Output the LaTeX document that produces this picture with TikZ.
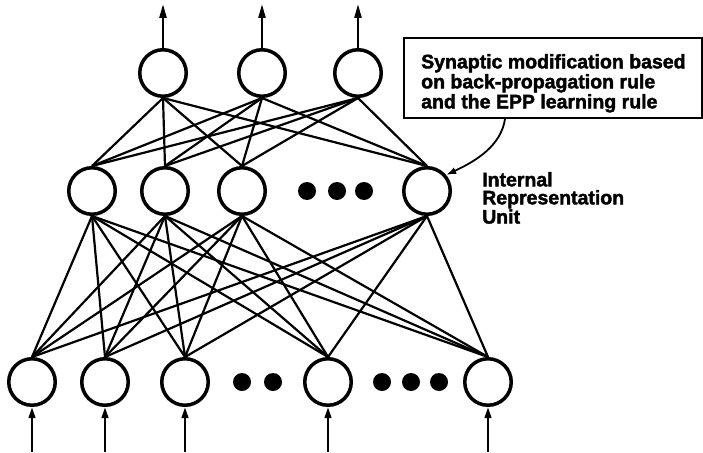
\documentclass[tikz,border=0pt]{standalone}
\usepackage{fontspec}
\newfontfamily\heavyfont{Liberation Sans}[BoldFeatures={FakeBold=2}]
\usetikzlibrary{arrows.meta}

\begin{document}
\begin{tikzpicture}[x=1pt,y=-1pt,
  unit/.style={circle,draw,line width=3.5pt,minimum size=46.5pt,inner sep=0pt},
  link/.style={line width=2.2pt},
  dotmark/.style={circle,fill,minimum size=18pt,inner sep=0pt},
  outarrow/.style={line width=2.4pt,-{Triangle[length=14pt,width=7pt]}},
  inarrow/.style={line width=2.4pt,-{Triangle[length=11pt,width=6.5pt]}},
  notearrow/.style={line width=1.8pt,-{Latex[length=10pt,width=7pt]}},
  txt/.style={font=\heavyfont\bfseries\fontsize{19.5}{20}\selectfont,
              align=left,inner sep=0pt,anchor=north west}]
\useasboundingbox (0,0) rectangle (703,452);

% output layer
\node[unit] (o1) at (163,73) {};
\node[unit] (o2) at (262,73) {};
\node[unit] (o3) at (358,73) {};

% hidden layer
\node[unit] (h1) at (92,191) {};
\node[unit] (h2) at (165,191) {};
\node[unit] (h3) at (242,191) {};
\node[unit] (h4) at (427,191) {};
\node[dotmark] (hd1) at (307,191) {};
\node[dotmark] (hd2) at (337,191) {};
\node[dotmark] (hd3) at (364,191) {};

% input layer
\node[unit] (i1) at (32,382) {};
\node[unit] (i2) at (105,382) {};
\node[unit] (i3) at (185,382) {};
\node[unit] (i4) at (328,382) {};
\node[unit] (i5) at (488,382) {};
\node[dotmark] (id1) at (242,382) {};
\node[dotmark] (id2) at (273,382) {};
\node[dotmark] (id3) at (382,382) {};
\node[dotmark] (id4) at (411,382) {};
\node[dotmark] (id5) at (439,382) {};

% full connections between layers
\foreach \a in {o1,o2,o3}
  \foreach \b in {h1,h2,h3,h4}
    \draw[link] (\a.south) -- (\b.north);
\foreach \a in {h1,h2,h3,h4}
  \foreach \b in {i1,i2,i3,i4,i5}
    \draw[link] (\a.south) -- (\b.north);

% outputs
\coordinate (y1) at (163,4);
\coordinate (y2) at (262,4);
\coordinate (y3) at (358,4);
\draw[outarrow] (o1.north) -- (y1);
\draw[outarrow] (o2.north) -- (y2);
\draw[outarrow] (o3.north) -- (y3);

% inputs
\foreach \n/\x in {1/32,2/105,3/185,4/328,5/488} {
  \coordinate (x\n) at (\x,452);
  \draw[inarrow] (x\n) -- (i\n.south);
}

% annotation box
\node[draw,line width=2pt,anchor=north west,minimum width=298pt,
      minimum height=80pt,inner sep=0pt] (note) at (403,37) {};
\node[txt] (notetext) at (421,54)
  {Synaptic modification based\\on back-propagation rule\\and the EPP learning rule};
\draw[notearrow] ([xshift=102pt]note.south west)
  .. controls (501,145) and (478,160) .. (h4.40);

% unit label
\node[txt,font=\heavyfont\bfseries\fontsize{19.5}{18}\selectfont] (unitlabel) at (482,172)
  {Internal\\Representation\\Unit};
\end{tikzpicture}
\end{document}
